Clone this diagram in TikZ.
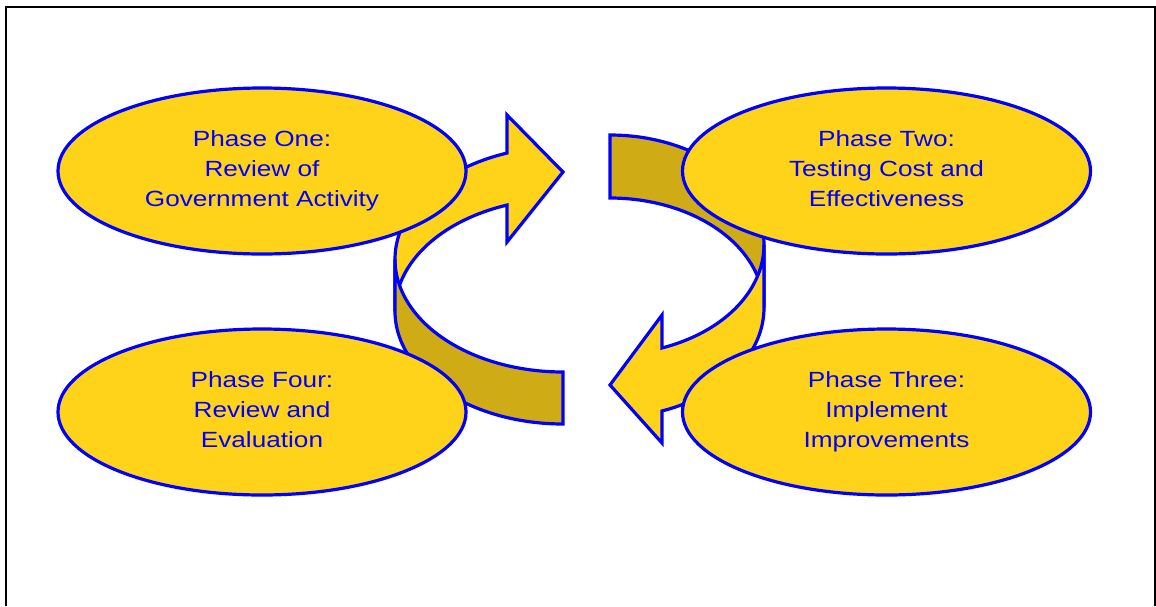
\documentclass[tikz,border=0pt]{standalone}
\usepackage{fontspec}
\setmainfont{Liberation Sans}
\newfontfamily\phasefont[FakeStretch=1.19]{Liberation Sans}
\usetikzlibrary{shapes.geometric}
\definecolor{gold}{RGB}{255,211,25}
\definecolor{darkgold}{RGB}{207,171,22}
\definecolor{pblue}{RGB}{0,0,255}
\newcommand{\topstrut}{\rule{0pt}{19pt}}
\newcommand{\botstrut}{\rule[-9pt]{0pt}{9pt}}
\begin{document}
\begin{tikzpicture}[x=1pt,y=-1pt,
  phase/.style={ellipse, draw=pblue, line width=3.2pt, fill=gold,
    minimum width=408pt, minimum height=166pt, inner sep=0pt,
    align=center, text=pblue, font=\phasefont\fontsize{22}{30}\selectfont},
  band/.style={draw=pblue, line width=3.2pt, line join=miter, miter limit=10},
  frameline/.style={draw=black, line width=2pt}
]
\useasboundingbox (0,0) rectangle (1156,606);

% frame (open at the bottom)
\draw[frameline] (6,606) -- (6,7) -- (1155,7) -- (1155,606);

% ---- left curved arrow (up towards Phase Two) ----
% light front part with arrowhead
\filldraw[band, fill=gold]
  plot[domain=250.5:180, samples=50, variable=\t] ({563+168*cos(\t)},{259.3+112.7*sin(\t)})
  -- plot[domain=180:250.5, samples=50, variable=\t] ({563+168*cos(\t)},{311.3+112.7*sin(\t)})
  -- (507,242) -- (563,172) -- (507,115) -- cycle;
% dark back part
\filldraw[band, fill=darkgold]
  plot[domain=180:90, samples=50, variable=\t] ({563+168*cos(\t)},{259.3+112.7*sin(\t)})
  -- plot[domain=90:180, samples=50, variable=\t] ({563+168*cos(\t)},{311.3+112.7*sin(\t)})
  -- cycle;

% ---- right curved arrow (down towards Phase Four) ----
% dark back part
\filldraw[band, fill=darkgold]
  plot[domain=-90:0, samples=50, variable=\t] ({610+154*cos(\t)},{244.7+109.7*sin(\t)})
  -- plot[domain=0:-90, samples=50, variable=\t] ({610+154*cos(\t)},{307.7+109.7*sin(\t)})
  -- cycle;
% light front part with arrowhead
\filldraw[band, fill=gold]
  plot[domain=0:70.27, samples=50, variable=\t] ({610+154*cos(\t)},{244.7+109.7*sin(\t)})
  -- (662,315) -- (610,385) -- (662,443)
  -- plot[domain=70.27:0, samples=50, variable=\t] ({610+154*cos(\t)},{307.7+109.7*sin(\t)})
  -- cycle;

% ---- phases ----
\node[phase] (p1) at (262,171) {\topstrut Phase One:\\Review of\\Government Activity\botstrut};
\node[phase] (p2) at (886.5,171) {\topstrut Phase Two:\\Testing Cost and\\Effectiveness\botstrut};
\node[phase] (p3) at (886.5,412) {\topstrut Phase Three:\\Implement\\Improvements\botstrut};
\node[phase] (p4) at (262,412) {\topstrut Phase Four:\\Review and\\Evaluation\botstrut};
\end{tikzpicture}
\end{document}
